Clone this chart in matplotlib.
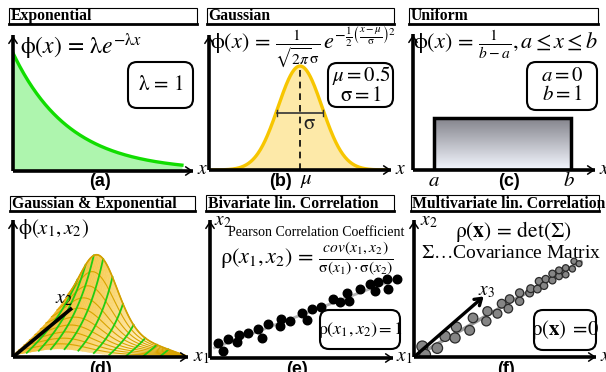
import numpy as np
import matplotlib.pyplot as plt
from matplotlib.patches import FancyBboxPatch, Rectangle
from matplotlib.collections import PolyCollection
from matplotlib.colors import LinearSegmentedColormap

plt.rcParams['mathtext.fontset'] = 'stix'
plt.rcParams['font.family'] = 'Liberation Serif'

W, H = 606, 372

# (a) exponential
lam = 1.0
exp_x = np.linspace(0, 3, 200)

# (b) gaussian
mu, sigma = 0.5, 1.0
gauss_x = np.linspace(-3.5, 4.5, 300)

# (c) uniform
a_lo, b_hi = 0.0, 1.0

# (d) gaussian x exponential surface
d_mu, d_sig, d_k = 0.26, 0.16, 2.2
d_rows = np.linspace(0, 1, 11)          # x2 direction
d_cols = [0.08, 0.15, 0.22, 0.3, 0.38, 0.47, 0.56, 0.66, 0.76, 0.86]

# (e) bivariate scatter
e_x1 = [0.45, 0.68, 0.99, 1.44, 1.59, 2.04, 2.61, 2.79, 3.15, 3.78, 3.84, 4.32, 4.95, 5.23,
        5.50, 5.98, 6.63, 7.03, 7.39, 7.51, 8.11, 8.65, 8.92, 9.10, 9.64, 9.59, 10.09]
e_x2 = [0.83, 0.38, 1.01, 0.86, 1.23, 1.33, 1.55, 1.10, 1.82, 1.73, 2.09, 2.00, 2.45, 2.05,
        2.63, 2.77, 3.17, 3.03, 3.50, 3.08, 3.71, 3.98, 3.60, 4.11, 3.71, 4.29, 4.25]

# (f) multivariate scatter
f_x1 = [0.45, 0.60, 1.26, 1.68, 2.22, 2.29, 3.01, 3.19, 3.91, 3.97, 4.51, 4.74, 5.10, 5.17,
        5.71, 5.71, 6.25, 6.31, 6.67, 6.76, 7.03, 7.12, 7.48, 7.48, 7.84, 7.84, 8.20, 8.20,
        8.56, 8.65, 8.92]
f_x2 = [0.57, 0.12, 0.48, 1.12, 1.03, 1.62, 1.44, 2.11, 1.93, 2.47, 2.34, 2.88, 2.61, 3.13,
        3.01, 3.46, 3.46, 3.69, 3.67, 4.09, 3.85, 4.21, 4.14, 4.50, 4.36, 4.68, 4.45, 4.81,
        4.76, 5.17, 5.04]
f_x3_dir = (3.88, 3.37)

fig = plt.figure(figsize=(W / 100, H / 100), dpi=100)

over = fig.add_axes([0, 0, 1, 1])
over.set_xlim(0, W)
over.set_ylim(H, 0)
over.axis('off')
over.set_zorder(10)


def panel(l, t, r, b):
    ax = fig.add_axes([l / W, 1 - b / H, (r - l) / W, (b - t) / H])
    ax.axis('off')
    return ax


def axis_arrows(ax):
    kw = dict(color='k', lw=2.6, transform=ax.transAxes, clip_on=False, solid_capstyle='butt', zorder=5)
    ax.plot([0, 0], [0, 0.985], **kw)
    ax.plot([0, 0.985], [0, 0], **kw)
    hp = dict(arrowstyle='->,head_length=0.45,head_width=0.3', lw=1.1, color='k')
    ax.annotate('', xy=(0, 1), xytext=(0, 0.9), xycoords='axes fraction', arrowprops=hp, zorder=6)
    ax.annotate('', xy=(1, 0), xytext=(0.9, 0), xycoords='axes fraction', arrowprops=hp, zorder=6)


def title(x0, y0, x1, y1, text):
    over.add_patch(Rectangle((x0, y0), x1 - x0, y1 - y0, fill=False, lw=0.8, ec='k'))
    over.plot([x0, x1], [y1, y1], color='k', lw=2)
    over.text(x0 + 1.5, (y0 + y1) / 2 + 0.5, text, fontsize=11.3, fontweight='bold', va='center', ha='left')


def rbox(x0, y0, x1, y1):
    over.add_patch(FancyBboxPatch((x0, y0), x1 - x0, y1 - y0, boxstyle='round,pad=0,rounding_size=9',
                                  fc='white', ec='k', lw=1.5))


def plabel(x, y, s):
    over.text(x, y, s, fontsize=13, fontweight='bold', family='Liberation Sans', ha='center', va='center')


# ---- (a) ----
ax = panel(13, 33, 196, 171)
ax.set_xlim(0, 3.25)
ax.set_ylim(0, 1.17)
ey = lam * np.exp(-lam * exp_x)
ax.fill_between(exp_x, ey, color='#aef5ae', lw=0)
ax.plot(exp_x, ey, color='#11dd00', lw=2.4)
axis_arrows(ax)
title(9, 8, 197, 24, 'Exponential')
over.text(20, 47, r'$\mathrm{\phi}(x)\,=\,\mathrm{\lambda} e^{-\mathrm{\lambda} x}$', fontsize=17, va='center')
rbox(128, 62, 193, 108)
over.text(161, 85, r'$\mathrm{\lambda}\,=\,1$', fontsize=15, ha='center', va='center')
over.text(197, 170, r'$x$', fontsize=14, va='center')
plabel(100, 182, '(a)')

# ---- (b) ----
ax = panel(209, 33, 394, 170)
ax.set_xlim(-3.64, 4.77)
ax.set_ylim(0, 0.5256)
gy = np.exp(-0.5 * ((gauss_x - mu) / sigma) ** 2) / (np.sqrt(2 * np.pi) * sigma)
ax.fill_between(gauss_x, gy, color='#fde9a8', lw=0)
ax.plot(gauss_x, gy, color='#f7c600', lw=2.4)
peak = 1 / (np.sqrt(2 * np.pi) * sigma)
ax.plot([mu, mu], [0, peak], color='k', lw=1.2, ls=(0, (4, 3)))
sy = peak * np.exp(-0.5 * 1.1 ** 2)
ax.plot([mu - 1.05 * sigma, mu + 1.05 * sigma], [sy, sy], color='#333', lw=1.2)
ax.plot([mu - 1.05 * sigma] * 2, [sy - 0.012, sy + 0.012], color='#333', lw=1)
ax.plot([mu + 1.05 * sigma] * 2, [sy - 0.012, sy + 0.012], color='#333', lw=1)
ax.text(mu + 0.15, sy - 0.005, r'$\mathrm{\sigma}$', fontsize=15, va='top', ha='left', color='#222')
axis_arrows(ax)
title(207, 8, 394, 24, 'Gaussian')
over.text(210, 48, r'$\mathrm{\phi}(x)\,=\,\frac{1}{\sqrt{2\pi}\mathrm{\sigma}}\,e^{-\frac{1}{2}\left(\frac{x-\mu}{\mathrm{\sigma}}\right)^2}$',
          fontsize=16, va='center')
rbox(328, 63, 393, 107)
over.text(361, 85, r'$\mu=0.5$' + '\n' + r'$\mathrm{\sigma}=1$', fontsize=15, ha='center', va='center',
          linespacing=1.0)
over.text(395, 170, r'$x$', fontsize=14, va='center')
over.text(306, 181, r'$\mu$', fontsize=15, ha='center', va='center')
plabel(281, 182, '(b)')

# ---- (c) ----
ax = panel(413, 32, 598, 170)
ucm = LinearSegmentedColormap.from_list('u', ['#f4f7ff', '#82828a'])
grad = np.linspace(0, 1, 100)[:, None]
ax.imshow(grad, extent=(a_lo, b_hi, 0, 1 / (b_hi - a_lo)), origin='lower', cmap=ucm, aspect='auto')
ax.add_patch(Rectangle((a_lo, 0), b_hi - a_lo, 1 / (b_hi - a_lo), fill=False, ec='k', lw=2.5))
ax.set_xlim(-0.153, 1.197)
ax.set_ylim(0, 2.65)
axis_arrows(ax)
title(409, 8, 598, 24, 'Uniform')
over.text(413, 45, r'$\mathrm{\phi}(x)\,=\,\frac{1}{b-a},a\leq x\leq b$', fontsize=16, va='center')
rbox(527, 62, 597, 110)
over.text(562, 86, r'$a=0$' + '\n' + r'$b=1$', fontsize=15, ha='center', va='center', linespacing=1.0)
over.text(599, 170, r'$x$', fontsize=14, va='center')
over.text(434, 181, r'$a$', fontsize=15, ha='center', va='center')
over.text(569, 181, r'$b$', fontsize=15, ha='center', va='center')
plabel(509, 182, '(c)')

# ---- (d) ----
ax = panel(13, 218, 191, 357)
ax.set_xlim(0, 178)
ax.set_ylim(0, 139)
end = np.array([172.0, 1.5])
u = np.linspace(0, 1, 80)


def proj(uu, tt):
    sx, sy_ = 55 * tt, 44 * tt
    bx = sx + uu * (end[0] - sx)
    by = sy_ + uu * (end[1] - sy_)
    z = 69 * np.exp(d_k * (tt - 1)) * np.exp(-0.5 * ((uu - d_mu) / d_sig) ** 2)
    return bx, by + z


tt_f = np.linspace(0, 1, 30)
polys, cols = [], []
for j in range(len(tt_f) - 1, 0, -1):
    for i in range(len(u) - 1):
        p = [proj(u[i], tt_f[j]), proj(u[i + 1], tt_f[j]), proj(u[i + 1], tt_f[j - 1]), proj(u[i], tt_f[j - 1])]
        polys.append(p)
        cols.append(u[i])
scm = LinearSegmentedColormap.from_list('s', ['#f2b92c', '#f8d060', '#fff1c4', '#fff6d8'])
fc = scm(np.array(cols))
ax.add_collection(PolyCollection(polys, facecolors=fc, edgecolors=fc, lw=0.3))
for tv in d_rows[1:]:
    bx, by = proj(u, tv)
    ax.plot(bx, by, color='#d8a300', lw=0.8)
tline = np.linspace(0, 1, 50)
for cv in d_cols:
    bx, by = proj(cv, tline)
    ax.plot(bx, by, color='#22cc11', lw=1.3)
bx, by = proj(u, 1.0)
ax.plot(bx, by, color='#d4a000', lw=1.2)
ax.plot([0, 59], [0, 49], color='k', lw=2.6, solid_capstyle='butt')
axis_arrows(ax)
title(10, 196, 195, 211, 'Gaussian & Exponential')
over.text(18, 229, r'$\mathrm{\phi}(x_1,x_2)$', fontsize=15, va='center')
over.text(55, 299, r'$x_2$', fontsize=14, va='center')
over.text(193, 357, r'$x_1$', fontsize=14, va='center')
plabel(100, 369, '(d)')

# ---- (e) ----
ax = panel(210, 218, 396, 358)
ax.set_xlim(0, 10.05)
ax.set_ylim(0, 7.57)
m, c = np.polyfit(e_x1, e_x2, 1)
lx = np.array([min(e_x1) - 0.2, max(e_x1) + 0.2])
ax.plot(lx, m * lx + c, color='#b4b4b4', lw=2, zorder=1)
ax.scatter(e_x1, e_x2, s=38, color='k', zorder=2, clip_on=False)
axis_arrows(ax)
title(206, 195, 394, 211, 'Bivariate lin. Correlation')
over.text(316, 233, 'Pearson Correlation Coefficient', fontsize=10, ha='center', va='center')
over.text(307, 259, r'$\mathrm{\rho}(x_1,x_2)\,=\,\frac{cov(x_1,x_2)}{\mathrm{\sigma}(x_1)\cdot\mathrm{\sigma}(x_2)}$',
          fontsize=16, ha='center', va='center')
rbox(320, 310, 400, 349)
over.text(360, 330, r'$\mathrm{\rho}(x_1,x_2)=1$', fontsize=13, ha='center', va='center')
over.text(214, 221, r'$x_2$', fontsize=14, va='center')
over.text(396, 357, r'$x_1$', fontsize=14, va='center')
plabel(297, 369, '(e)')

# ---- (f) ----
ax = panel(414, 218, 599, 357)
ax.set_xlim(0, 10)
ax.set_ylim(0, 7.51)
m, c = np.polyfit(f_x1, f_x2, 1)
lx = np.array([0.1, max(f_x1) + 0.1])
ax.plot(lx, m * lx + c, color='#9a9a9a', lw=2.5, zorder=1)
sz = np.interp(f_x1, [0, 9], [64, 18])
ax.scatter(f_x1, f_x2, s=sz, facecolor='#858585', edgecolor='#2a2a2a', lw=0.9, zorder=2)
ax.annotate('', xy=f_x3_dir, xytext=(0, 0),
            arrowprops=dict(arrowstyle='->,head_length=0.45,head_width=0.3', lw=2.4, color='k'), zorder=3)
axis_arrows(ax)
title(411, 195, 599, 211, 'Multivariate lin. Correlation')
over.text(513, 232, r'$\mathrm{\rho}(\mathbf{x})\,=\,\det(\Sigma)$', fontsize=15.5, ha='center', va='center')
over.text(511, 253, r'$\Sigma\ldots$' + 'Covariance Matrix', fontsize=14, ha='center', va='center')
rbox(534, 310, 596, 350)
over.text(565, 330, r'$\mathrm{\rho}(\mathbf{x})\;=\!0$', fontsize=15, ha='center', va='center')
over.text(420, 222, r'$x_2$', fontsize=14, va='center')
over.text(478, 291, r'$x_3$', fontsize=14, va='center')
over.text(600, 357, r'$x_1$', fontsize=14, va='center')
plabel(506, 369, '(f)')

fig.savefig('out.png', dpi=100)
